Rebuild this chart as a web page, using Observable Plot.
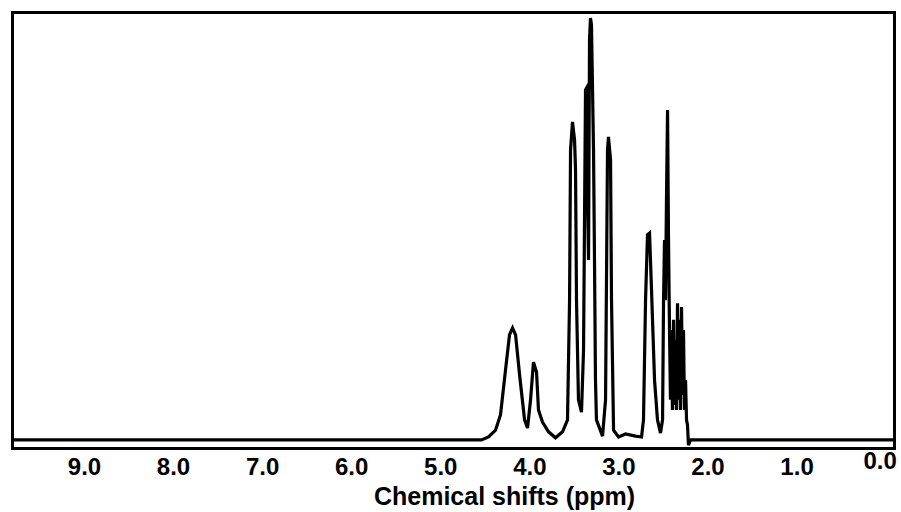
<!DOCTYPE html>
<html>
<head>
<meta charset="utf-8">
<script src="https://cdn.jsdelivr.net/npm/d3@7"></script>
<script src="https://cdn.jsdelivr.net/npm/@observablehq/plot@0.6"></script>
<style>
  html, body { margin: 0; padding: 0; background: #fff; }
  #chart svg { display: block; }
</style>
</head>
<body>
<div id="chart"></div>
<script>
// Chemical shift (ppm) of each vertex of the traced spectrum
const ppm = [
  9.808, 4.543, 4.464, 4.385, 4.329, 4.273, 4.228, 4.194, 4.160, 4.115,
  4.059, 4.026, 3.992, 3.959, 3.925, 3.903, 3.858, 3.790, 3.712, 3.633,
  3.577, 3.554, 3.543, 3.521, 3.498, 3.487, 3.476, 3.454, 3.420, 3.397,
  3.375, 3.364, 3.352, 3.341, 3.330, 3.319, 3.308, 3.296, 3.285, 3.274,
  3.263, 3.252, 3.184, 3.150, 3.128, 3.117, 3.094, 3.083, 3.060, 3.004,
  2.926, 2.813, 2.746, 2.724, 2.701, 2.679, 2.656, 2.634, 2.600, 2.567,
  2.533, 2.510, 2.499, 2.488, 2.477, 2.466, 2.454, 2.443, 2.432, 2.421,
  2.410, 2.399, 2.387, 2.376, 2.365, 2.354, 2.342, 2.331, 2.320, 2.309,
  2.297, 2.286, 2.275, 2.264, 2.252, 2.241, 2.230, 2.219, 2.197, -0.094
];
// Relative intensity at each vertex
const intensity = [
  0, 0, 0.7, 2.3, 5.9, 16.4, 24.6, 26.2, 24.6, 15.2,
  4.7, 2.8, 9.4, 18.2, 15.9, 7.0, 4.2, 1.9, 0.5, 1.9,
  4.7, 32.7, 67.8, 74.4, 70.2, 63.2, 32.7, 9.4, 6.5, 21.1,
  81.9, 82.3, 56.1, 42.1, 93.6, 98.7, 97.1, 81.9, 67.8, 42.1,
  14.0, 4.7, 0.9, 9.4, 67.8, 70.9, 65.5, 32.7, 2.3, 0.7,
  1.4, 0.9, 0.7, 4.7, 32.7, 48.0, 48.4, 35.1, 14.0, 4.7,
  1.6, 4.7, 32.7, 46.8, 32.7, 56.1, 77.2, 46.8, 25.7, 9.4,
  25.7, 7.0, 28.1, 8.2, 23.4, 7.0, 32.0, 9.4, 28.1, 7.0,
  31.1, 10.5, 25.7, 7.0, 14.0, 4.7, 3.5, -1.2, 0, 0
];
const tickValues = [9, 8, 7, 6, 5, 4, 3, 2, 1];
const lastTick = [0];
const xTitle = "Chemical shifts (ppm)";

const spectrum = ppm.map((p, i) => ({ppm: p, intensity: intensity[i]}));

const axisStyle = {
  tickFormat: d => d.toFixed(1),
  tickSize: 0,
  tickPadding: 9,
  fontSize: 24,
  fontWeight: "bold",
  label: null
};

const chart = Plot.plot({
  width: 901,
  height: 512,
  marginLeft: 12,
  marginRight: 7,
  marginTop: 12,
  marginBottom: 64,
  style: {background: "#fff", fontFamily: "'Liberation Sans', Arial, sans-serif", color: "#000", overflow: "visible"},
  x: {domain: [9.808, -0.094], label: null},
  y: {domain: [-2, 100], axis: null},
  marks: [
    Plot.line(spectrum, {x: "ppm", y: "intensity", stroke: "#000", strokeWidth: 3.2, strokeLinejoin: "miter", strokeMiterlimit: 4}),
    Plot.frame({stroke: "#000", strokeWidth: 3}),
    Plot.axisX({...axisStyle, ticks: tickValues}),
    Plot.axisX({...axisStyle, ticks: lastTick, dx: -6, dy: -6}),
    Plot.text([xTitle], {
      frameAnchor: "bottom",
      lineAnchor: "top",
      dx: 51,
      dy: 39,
      fontSize: 25,
      fontWeight: "bold",
      fill: "#000"
    })
  ]
});
document.getElementById("chart").appendChild(chart);
</script>
</body>
</html>
